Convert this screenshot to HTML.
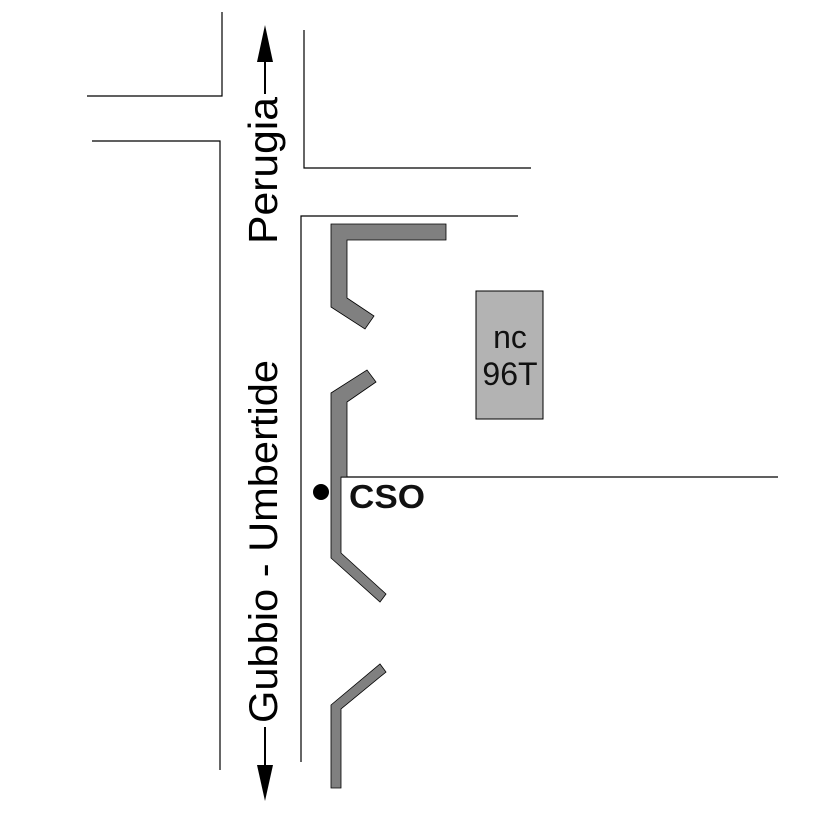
<!DOCTYPE html>
<html><head><style>html,body{margin:0;padding:0;background:#fff}</style></head>
<body>
<svg width="827" height="827" viewBox="0 0 827 827" xmlns="http://www.w3.org/2000/svg">
<rect width="827" height="827" fill="#fff"/>
<g stroke="#000" stroke-width="1.2" fill="none">
<polyline points="222,12 222,96 87,96"/>
<polyline points="92,141 220,141 220,770"/>
<polyline points="304,30 304,168 531,168"/>
<polyline points="518,216 301,216 301,762"/>
<line x1="331" y1="477" x2="778" y2="477"/>
</g>
<g fill="#808080" stroke="#000" stroke-width="0.8">
<polygon points="331,224 446,224 446,240 347,240 347,298 374,316 365,329 331,307"/>
<polygon points="331,393 367,370 376,382 347,402 347,477 341,477 341,553 386,594 380,602 331,558"/>
<polygon points="331,705 380,664 386,672 341,709 341,788 331,788"/>
</g>
<rect x="476" y="291" width="67" height="128" fill="#b3b3b3" stroke="#000" stroke-width="1"/>
<text x="510" y="348" font-family="Liberation Sans, sans-serif" font-size="32" text-anchor="middle" fill="#111">nc</text>
<text x="510" y="385" font-family="Liberation Sans, sans-serif" font-size="32" text-anchor="middle" fill="#111">96T</text>
<circle cx="321" cy="492" r="8" fill="#000"/>
<text x="349" y="508" font-family="Liberation Sans, sans-serif" font-size="33" font-weight="bold" textLength="76" lengthAdjust="spacingAndGlyphs" fill="#111">CSO</text>
<text transform="translate(277,244) rotate(-90)" font-family="Liberation Sans, sans-serif" font-size="41" textLength="147" lengthAdjust="spacingAndGlyphs" fill="#000">Perugia</text>
<text transform="translate(277,723) rotate(-90)" font-family="Liberation Sans, sans-serif" font-size="40" textLength="363" lengthAdjust="spacingAndGlyphs" fill="#000">Gubbio - Umbertide</text>
<line x1="265" y1="60" x2="265" y2="94" stroke="#000" stroke-width="2"/>
<polygon points="265,25 257,62 273,62" fill="#000"/>
<line x1="265" y1="727" x2="265" y2="768" stroke="#000" stroke-width="2"/>
<polygon points="265,801 257,765 273,765" fill="#000"/>
</svg>
</body></html>
